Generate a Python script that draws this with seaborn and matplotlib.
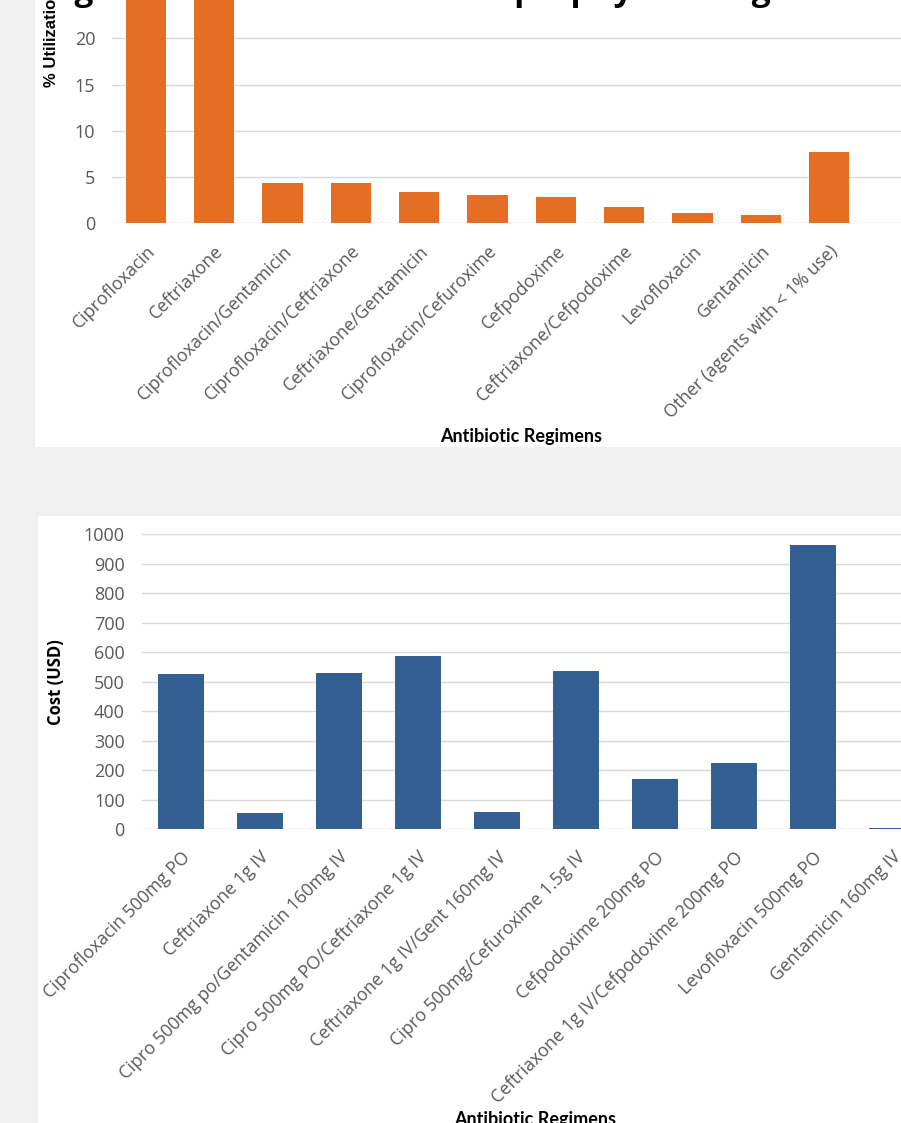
import matplotlib
matplotlib.use("Agg")
import matplotlib.pyplot as plt
import seaborn as sns
import pandas as pd
from matplotlib.patches import Rectangle

# ---------------- data ----------------
title_text = "Figure 1. Utilization rates of prophylaxis regimens"

util_regimens = [
    "Ciprofloxacin", "Ceftriaxone", "Ciprofloxacin/Gentamicin",
    "Ciprofloxacin/Ceftriaxone", "Ceftriaxone/Gentamicin",
    "Ciprofloxacin/Cefuroxime", "Cefpodoxime", "Ceftriaxone/Cefpodoxime",
    "Levofloxacin", "Gentamicin", "Other (agents with < 1% use)",
]
util_pct = [37.6, 32.8, 4.4, 4.4, 3.4, 3.1, 2.8, 1.8, 1.1, 0.9, 7.7]
util_yticks = [0, 5, 10, 15, 20, 25, 30, 35, 40]

cost_regimens = [
    "Ciprofloxacin 500mg PO", "Ceftriaxone 1g IV",
    "Cipro 500mg po/Gentamicin 160mg IV", "Cipro 500mg PO/Ceftriaxone 1g IV",
    "Ceftriaxone 1g IV/Gent 160mg IV", "Cipro 500mg/Cefuroxime 1.5g IV",
    "Cefpodoxime 200mg PO", "Ceftriaxone 1g IV/Cefpodoxime 200mg PO",
    "Levofloxacin 500mg PO", "Gentamicin 160mg IV",
]
cost_usd = [526, 54, 531, 586, 60, 535, 169, 224, 964, 4]
cost_yticks = [0, 100, 200, 300, 400, 500, 600, 700, 800, 900, 1000]

# ---------------- style ----------------
sns.set_style("white")
plt.rcParams["font.family"] = ["Open Sans", "DejaVu Sans"]

ORANGE = "#E46F24"
BLUE = "#345F93"
GRID = "#D9D9D9"
TICK = "#595959"
BG = "#F0F0F0"

W, H = 901, 1123
fig = plt.figure(figsize=(W / 100, H / 100), dpi=100, facecolor=BG)

# white panels behind each chart
fig.patches.append(Rectangle((35 / W, 1 - 447 / H), 1 - 35 / W, 447 / H,
                             transform=fig.transFigure, facecolor="white",
                             edgecolor="none", zorder=-5))
fig.patches.append(Rectangle((38 / W, 0), 1 - 38 / W, 1 - 516 / H,
                             transform=fig.transFigure, facecolor="white",
                             edgecolor="none", zorder=-5))

# chart title (mostly above the visible area, as in the cropped reference)
fig.text(46 / W, 1 + 0.5 / H, title_text, fontsize=24, fontweight="bold",
         ha="left", va="baseline", color="#000000", zorder=-1)


def style_axes(ax, yticks, xlabels, ylabel, ylab_family, ylab_size, ylab_x,
               xlab_y):
    ax.set_facecolor("none")
    for s in ax.spines.values():
        s.set_visible(False)
    ax.set_axisbelow(True)
    ax.yaxis.grid(True, color=GRID, linewidth=1.0)
    ax.xaxis.grid(False)
    ax.set_yticks(yticks)
    ax.set_yticklabels([str(t) for t in yticks], fontsize=13, color=TICK)
    ax.tick_params(axis="y", length=0, pad=12)
    ax.set_xticks(range(len(xlabels)))
    ax.set_xticklabels(xlabels, rotation=45, ha="right", va="top",
                       rotation_mode="anchor", fontsize=12.8, color=TICK)
    ax.tick_params(axis="x", length=0, pad=13.5)
    ax.set_ylabel(ylabel, fontsize=ylab_size, fontweight="bold",
                  color="#000000", family=ylab_family)
    ax.yaxis.set_label_coords(ylab_x, 0.5)
    ax.set_xlabel("Antibiotic Regimens", fontsize=13, fontweight="bold",
                  color="#000000", family=["Lato", "DejaVu Sans"])
    ax.xaxis.set_label_coords(0.518, xlab_y)


# ---------------- top chart: utilization ----------------
L1, B1 = 111.85, 223.3
ax1 = fig.add_axes([L1 / W, 1 - B1 / H, 1 - L1 / W, 370 / H])
df1 = pd.DataFrame({"regimen": util_regimens, "pct": util_pct})
sns.barplot(data=df1, x="regimen", y="pct", color=ORANGE, saturation=1,
            width=0.59, linewidth=0, ax=ax1)
ax1.set_xlim(-0.5, -0.5 + (W - L1) / 68.3)
ax1.set_ylim(0, 40)
style_axes(ax1, util_yticks, util_regimens, "% Utilization",
           ["Liberation Sans", "DejaVu Sans"], 12, (59 - L1) / (W - L1),
           -(428 - B1) / 370)

# ---------------- bottom chart: cost ----------------
L2, B2 = 141.5, 829.3
ax2 = fig.add_axes([L2 / W, 1 - B2 / H, 1 - L2 / W, 295 / H])
df2 = pd.DataFrame({"regimen": cost_regimens, "cost": cost_usd})
sns.barplot(data=df2, x="regimen", y="cost", color=BLUE, saturation=1,
            width=0.59, linewidth=0, ax=ax2)
ax2.set_xlim(-0.5, -0.5 + (W - L2) / 79.0)
ax2.set_ylim(0, 1000)
style_axes(ax2, cost_yticks, cost_regimens, "Cost (USD)",
           ["Open Sans", "DejaVu Sans"], 12, (65 - L2) / (W - L2),
           -(1111 - B2) / 295)

fig.savefig("out.png", dpi=100, facecolor=BG)
